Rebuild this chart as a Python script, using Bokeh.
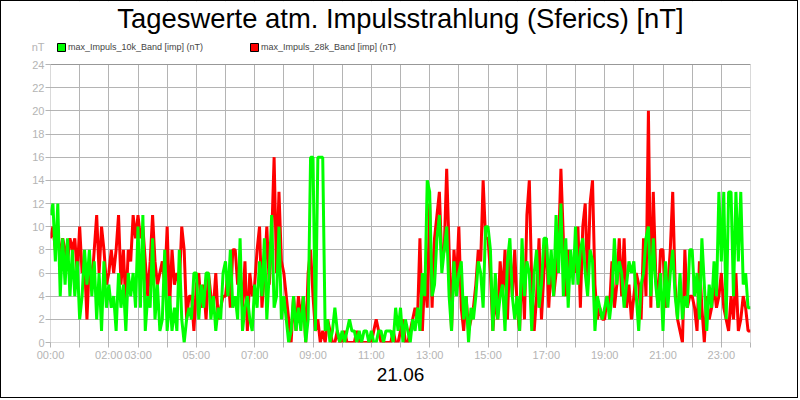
from bokeh.plotting import figure
from bokeh.models import (Range1d, FixedTicker, Label, Legend, LegendItem,
                          Title, BoxAnnotation)
from bokeh.embed import file_html
from bokeh.resources import INLINE

# 5-minute values, one row per hour (00:00 ... 23:55) plus the 24:00 value
green_10k = [
    11, 12, 7, 12, 4, 9, 5, 9, 4, 8, 4, 7,
    2, 4, 8, 5, 8, 4, 7, 2, 6, 1, 7, 3,
    5, 3, 4, 1, 6, 3, 5, 1, 6, 4, 6, 3,
    10, 3, 11, 1, 4, 3, 9, 2, 5, 1, 2, 8,
    1, 4, 1, 3, 1, 8, 2, 0, 2, 3, 2, 6,
    6, 2, 5, 3, 6, 6, 2, 4, 1, 3, 2, 6,
    7, 4, 8, 3, 4, 2, 9, 1, 3, 4, 2, 1,
    5, 3, 7, 4, 9, 2, 6, 11, 3, 4, 10, 2,
    4, 2, 0, 1, 4, 1, 3, 1, 4, 0, 2, 16,
    16, 1, 16, 16, 16, 1, 2, 0, 1, 3, 1, 0,
    1, 0, 1, 2, 1, 1, 0, 1, 0, 1, 1, 0,
    1, 0, 0, 1, 1, 0, 1, 1, 1, 0, 3, 1,
    3, 0, 2, 1, 0, 2, 1, 3, 1, 6, 4, 14,
    13, 4, 5, 9, 11, 6, 8, 10, 4, 1, 7, 4,
    6, 7, 2, 4, 0, 3, 2, 4, 7, 6, 3, 10,
    10, 8, 1, 6, 2, 4, 5, 1, 7, 9, 4, 2,
    4, 1, 9, 4, 7, 6, 1, 6, 8, 3, 5, 9,
    9, 5, 8, 4, 11, 6, 12, 4, 9, 3, 8, 5,
    10, 5, 8, 9, 6, 4, 8, 7, 1, 4, 3, 2,
    3, 4, 2, 4, 9, 5, 7, 6, 3, 5, 7, 6,
    7, 4, 1, 5, 6, 9, 10, 4, 9, 5, 3, 6,
    1, 7, 3, 6, 8, 4, 2, 6, 2, 4, 3, 8,
    8, 4, 6, 2, 9, 5, 1, 5, 3, 7, 4, 13,
    7, 13, 2, 13, 13, 4, 13, 7, 13, 5, 6, 3,
    3,
]

red_28k = [
    9, 10, 8, 10, 7, 9, 8, 7, 9, 8, 9, 6,
    10, 6, 7, 2, 7, 5, 8, 11, 6, 10, 8, 5,
    6, 8, 6, 8, 11, 5, 8, 3, 8, 7, 11, 9,
    11, 9, 10, 7, 4, 7, 11, 7, 5, 6, 7, 5,
    10, 3, 8, 5, 6, 5, 10, 8, 2, 4, 4, 1,
    5, 6, 3, 5, 2, 6, 4, 3, 6, 2, 3, 4,
    4, 6, 3, 8, 8, 5, 6, 3, 7, 1, 6, 4,
    5, 8, 10, 3, 6, 10, 5, 9, 16, 6, 13, 7,
    6, 4, 2, 0, 4, 1, 4, 2, 4, 0, 6, 8,
    4, 1, 2, 0, 1, 0, 2, 1, 0, 0, 1, 0,
    0, 1, 0, 0, 0, 0, 1, 0, 0, 0, 0, 0,
    0, 1, 2, 1, 0, 0, 0, 0, 0, 1, 0, 0,
    1, 2, 0, 0, 1, 2, 3, 2, 9, 1, 6, 3,
    12, 3, 9, 11, 13, 7, 8, 15, 8, 1, 8, 5,
    10, 3, 1, 4, 1, 2, 3, 5, 8, 7, 14, 9,
    9, 6, 1, 4, 2, 7, 4, 8, 2, 8, 4, 8,
    3, 1, 7, 2, 11, 14, 5, 1, 4, 9, 2, 6,
    9, 3, 7, 4, 6, 8, 15, 9, 4, 8, 6, 7,
    6, 10, 3, 10, 12, 5, 12, 14, 5, 2, 3, 2,
    2, 4, 3, 7, 3, 5, 9, 4, 9, 3, 5, 2,
    4, 6, 5, 2, 9, 4, 20, 3, 13, 6, 3, 8,
    8, 3, 5, 8, 13, 5, 2, 1, 0, 8, 3, 4,
    4, 3, 1, 7, 3, 0, 4, 2, 3, 5, 3, 4,
    6, 3, 2, 1, 4, 2, 6, 1, 2, 4, 3, 1,
    1,
]

hour_ticks = list(range(0, 25))
labelled_hours = [0, 2, 3, 5, 7, 9, 11, 13, 15, 17, 19, 21, 23]
y_ticks = list(range(0, 25, 2))
Y_MAX = 24
UNIT_POS = 25.47  # where the "nT" unit sits, above the value scale

title_text = "Tageswerte atm. Impulsstrahlung (Sferics) [nT]"
date_text = "21.06"
unit_text = "nT"
legend_labels = ["max_Impuls_10k_Band [imp] (nT)", "max_Impuls_28k_Band [imp] (nT)"]

times = [i * 5 / 60 for i in range(len(green_10k))]

FONT = "Liberation Sans"
GRAY = "#b4b4b4"

# frame reaches the top of the canvas; the value scale 0..24 uses its lower 278 px
FRAME_H = 341
DATA_H = 278
y_top = Y_MAX * FRAME_H / DATA_H

p = figure(width=798, height=398, output_backend="svg", toolbar_location=None,
           x_range=Range1d(0, 24), y_range=Range1d(0, y_top),
           min_border_left=49, min_border_right=49,
           min_border_top=0, min_border_bottom=57)
p.styles = {"border": "1px solid black"}
p.background_fill_color = "white"
p.border_fill_color = "white"
p.outline_line_color = None

p.xaxis.ticker = FixedTicker(ticks=hour_ticks)
p.xaxis.major_label_overrides = {
    h: (f"{h:02d}:00" if h in labelled_hours else "") for h in hour_ticks
}
# y tick marks come from the minor ticks so that the unit label gets none
p.yaxis.ticker = FixedTicker(ticks=y_ticks + [UNIT_POS], minor_ticks=y_ticks)
p.yaxis.major_label_overrides = {UNIT_POS: unit_text}
for ax in (p.xaxis, p.yaxis):
    ax.axis_line_color = None
    ax.major_tick_line_color = GRAY
    ax.major_tick_out = 5
    ax.major_tick_in = 0
    ax.minor_tick_line_color = None
    ax.major_label_text_color = GRAY
    ax.major_label_text_font = FONT
    ax.major_label_text_font_size = "11px"
    ax.major_label_standoff = 1
p.yaxis.major_tick_line_color = None
p.yaxis.minor_tick_line_color = GRAY
p.yaxis.minor_tick_out = 5
p.yaxis.minor_tick_in = 0

p.xgrid.ticker = FixedTicker(ticks=hour_ticks)
p.ygrid.ticker = FixedTicker(ticks=y_ticks)
p.grid.grid_line_color = GRAY
p.grid.grid_line_width = 1

p.line(times, red_28k, line_color="#ff0000", line_width=3)
p.line(times, green_10k, line_color="#00ff00", line_width=3)

# blank out the grid above the value scale, then draw the black plot box
p.add_layout(BoxAnnotation(bottom=Y_MAX, fill_color="white", fill_alpha=1,
                           line_color=None))
p.add_layout(BoxAnnotation(left=0, right=24, bottom=0, top=Y_MAX,
                           fill_alpha=0, line_color="black", line_width=1))

# legend swatches (no area of their own in the plot)
nan = float("nan")
gsq = p.quad(left=[nan], right=[nan], bottom=[nan], top=[nan],
             fill_color="#00ff00", line_color="#000000", line_width=1)
rsq = p.quad(left=[nan], right=[nan], bottom=[nan], top=[nan],
             fill_color="#ff0000", line_color="#000000", line_width=1)
legend = Legend(items=[LegendItem(label=legend_labels[0], renderers=[gsq]),
                       LegendItem(label=legend_labels[1], renderers=[rsq])],
                orientation="horizontal", location=(6, 290),
                glyph_width=10, glyph_height=10, label_standoff=2, spacing=46,
                padding=0, margin=0, border_line_color=None,
                background_fill_alpha=0,
                label_text_font=FONT, label_text_font_size="9px",
                label_height=10)
p.add_layout(legend)

p.add_layout(Label(x=12, y=27.95, text=title_text, text_align="center",
                   text_baseline="middle", text_font=FONT,
                   text_font_size="27.4px", text_color="black"))

p.add_layout(Title(text=date_text, align="center", text_font=FONT,
                   text_font_size="19px", text_font_style="normal",
                   text_color="black", standoff=4), "below")

open("out.html", "w").write(file_html(p, INLINE))
